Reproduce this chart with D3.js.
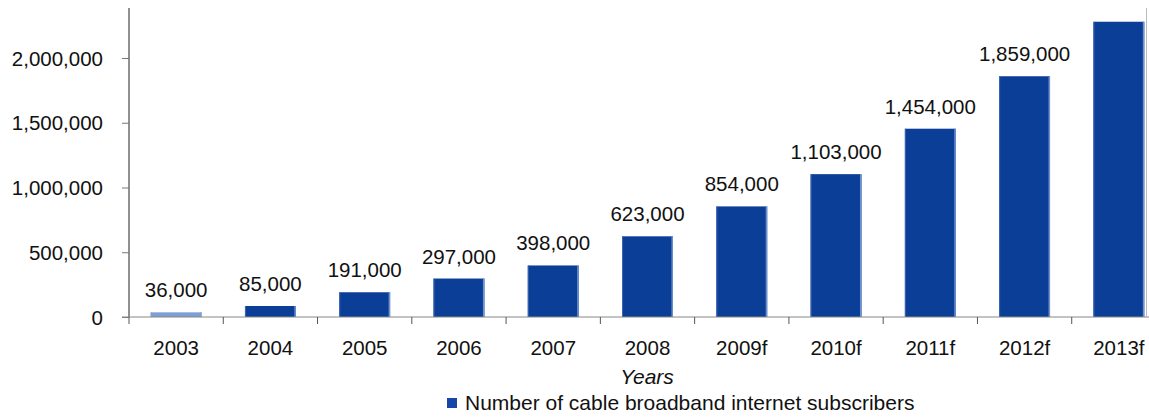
<!DOCTYPE html>
<html><head><meta charset="utf-8">
<script src="https://cdn.jsdelivr.net/npm/d3@7"></script>
<style>body{margin:0;background:#fff}svg{display:block}text{font-family:"Liberation Sans",Arial,sans-serif;fill:#111}</style>
</head><body><svg id="c" width="1149" height="417"></svg>
<script>
const categories=["2003","2004","2005","2006","2007","2008","2009f","2010f","2011f","2012f","2013f"];
const values=[36000,85000,191000,297000,398000,623000,854000,1103000,1454000,1859000,2280000];
const labels=["36,000","85,000","191,000","297,000","398,000","623,000","854,000","1,103,000","1,454,000","1,859,000",""];
const yTicks=[0,500000,1000000,1500000,2000000];
const seriesName="Number of cable broadband internet subscribers";
const xTitle="Years";

const svg=d3.select("#c");
const x=d3.scaleBand().domain(categories).range([129,1166]).paddingInner(0.46).paddingOuter(0.23);
const y=d3.scaleLinear().domain([0,2386000]).range([317,8]);
const dark="#0b3e96", light="#7d9fd6";

// bars
const g=svg.append("g");
g.selectAll("rect.bar").data(values).join("rect").attr("class","bar")
 .attr("x",(d,i)=>x(categories[i])).attr("width",x.bandwidth())
 .attr("y",d=>y(d)).attr("height",d=>y(0)-y(d))
 .attr("fill",(d,i)=>i===0?light:dark);
g.selectAll("rect.hl").data(values).join("rect").attr("class","hl")
 .attr("x",(d,i)=>x(categories[i])+x.bandwidth()-1.5).attr("width",1.5)
 .attr("y",d=>y(d)).attr("height",d=>y(0)-y(d))
 .attr("fill",(d,i)=>i===0?light:"#6f92cf");
g.selectAll("rect.hl2").data(values).join("rect").attr("class","hl2")
 .attr("x",(d,i)=>x(categories[i])).attr("width",1)
 .attr("y",d=>y(d)).attr("height",d=>y(0)-y(d))
 .attr("fill",(d,i)=>i===0?light:"#3d66b3");

// value labels
g.selectAll("text.v").data(values).join("text").attr("class","v")
 .attr("x",(d,i)=>x(categories[i])+x.bandwidth()/2).attr("y",d=>y(d)-15)
 .attr("text-anchor","middle").style("font-size","20.5px")
 .text((d,i)=>labels[i]);

// y axis
const ya=svg.append("g").attr("transform","translate(129,0)")
 .call(d3.axisLeft(y).tickValues(yTicks).tickSize(7).tickPadding(19).tickFormat(d3.format(",")));
ya.select(".domain").attr("stroke","#222").attr("d","M0,8V317");
ya.selectAll(".tick line").attr("stroke","#777");
ya.selectAll(".tick text").style("font-size","20.5px").attr("fill","#111").attr("dy","0.35em");

// x axis
const xa=svg.append("g").attr("transform","translate(0,317)")
 .call(d3.axisBottom(x).tickSize(0).tickPadding(23));
xa.select(".domain").attr("stroke","#888").attr("d","M122,0H1166");
xa.selectAll(".tick text").style("font-size","20.5px").attr("fill","#111");
// category boundary ticks
const bounds=categories.map((c,i)=>x(c)-x.step()*x.paddingInner()/2).slice(1);
xa.selectAll("line.b").data([129].concat(bounds)).join("line").attr("class","b")
 .attr("x1",d=>d).attr("x2",d=>d).attr("y1",0).attr("y2",7).attr("stroke","#555");

svg.append("line").attr("x1",1146.5).attr("x2",1146.5).attr("y1",8).attr("y2",317).attr("stroke","#bbb");

svg.append("text").attr("x",647).attr("y",384).attr("text-anchor","middle")
 .style("font-size","21px").style("font-style","italic").text(xTitle);

svg.append("rect").attr("x",447).attr("y",398).attr("width",10).attr("height",10).attr("fill","#1447a8");
svg.append("text").attr("x",465).attr("y",410).style("font-size","21px").text(seriesName);
</script></body></html>
